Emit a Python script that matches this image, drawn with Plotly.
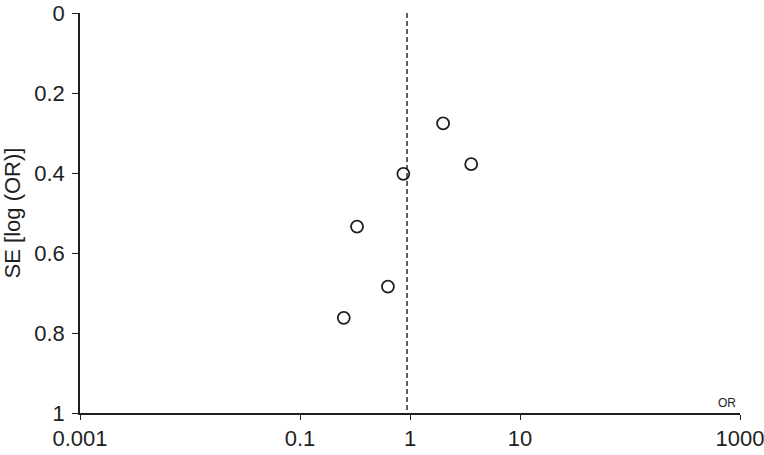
import plotly.graph_objects as go

# Study data (odds ratio and standard error of log OR)
study_or = [2.0, 3.6, 0.87, 0.33, 0.63, 0.25]
study_se = [0.276, 0.378, 0.402, 0.534, 0.684, 0.762]
pooled_or = 0.94
se_limits = [0, 1]

x_tickvals = [0.001, 0.1, 1, 10, 1000]
x_ticktext = ["0.001", "0.1", "1", "10", "1000"]
y_tickvals = [0, 0.2, 0.4, 0.6, 0.8, 1]
y_ticktext = ["0", "0.2", "0.4", "0.6", "0.8", "1"]

ink = "#1e1e1e"

fig = go.Figure()
fig.add_trace(go.Scatter(
    x=[pooled_or, pooled_or], y=se_limits, mode="lines",
    line=dict(color=ink, width=1.4, dash="5px,3px"),
    hoverinfo="skip", showlegend=False,
))
fig.add_trace(go.Scatter(
    x=study_or, y=study_se, mode="markers",
    marker=dict(symbol="circle-open", size=12, color=ink,
                line=dict(width=1.8, color=ink)),
    showlegend=False,
))

font_family = "Liberation Sans, Arial, sans-serif"
fig.update_layout(
    width=764, height=455,
    margin=dict(l=80, r=24, t=13, b=42),
    paper_bgcolor="white", plot_bgcolor="white",
    font=dict(family=font_family, color=ink, size=22),
    xaxis=dict(
        type="log", range=[-3, 3], automargin=False,
        tickvals=x_tickvals, ticktext=x_ticktext,
        showgrid=False, zeroline=False,
        showline=True, linecolor=ink, linewidth=1.5,
        ticks="outside", ticklen=5, tickwidth=1.2, tickcolor=ink,
        tickfont=dict(size=22, color=ink),
        ticklabelstandoff=0, ticklabeloverflow="allow",
    ),
    yaxis=dict(
        range=[1, 0], automargin=False,
        tickvals=y_tickvals, ticktext=y_ticktext,
        showgrid=False, zeroline=False,
        showline=True, linecolor=ink, linewidth=1.5,
        ticks="outside", ticklen=6, tickwidth=1.2, tickcolor=ink,
        tickfont=dict(size=22, color=ink),
        ticklabelstandoff=3, ticklabeloverflow="allow",
        title=dict(text="SE [log (OR)]", font=dict(size=22, color=ink), standoff=9),
    ),
    annotations=[dict(
        text="OR", x=3, y=1, xref="x", yref="y",
        xanchor="right", yanchor="bottom", showarrow=False,
        font=dict(size=12, color=ink), xshift=-2, yshift=1,
    )],
)

fig.write_html("out.html",
               config={"displayModeBar": False},
               post_script="document.body.style.margin='0';document.body.style.overflow='hidden';")
